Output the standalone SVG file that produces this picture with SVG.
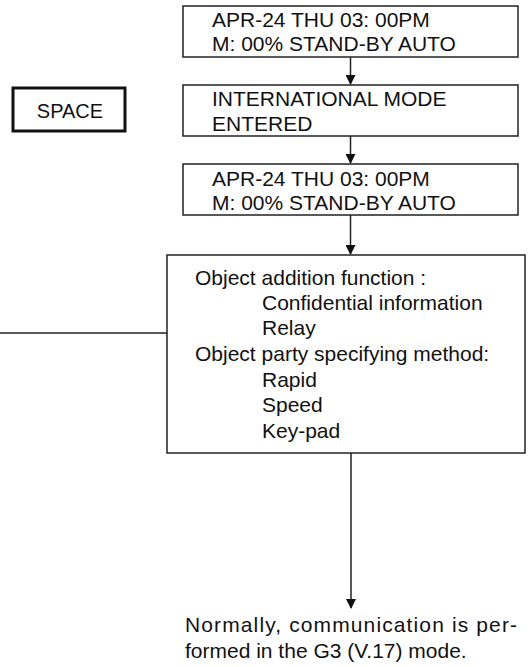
<svg xmlns="http://www.w3.org/2000/svg" width="530" height="667" viewBox="0 0 530 667">
<defs>
<style>
.box{fill:#fff;stroke:#222;stroke-width:1.5}
.box2{fill:#fff;stroke:#111;stroke-width:3}
.t{font-family:"Liberation Sans",Arial,sans-serif;font-size:21px;fill:#111}
.ts{font-family:"Liberation Sans",Arial,sans-serif;font-size:20px;fill:#111}
.ln{stroke:#222;stroke-width:1.5;fill:none}
</style>
<marker id="ah" markerWidth="10" markerHeight="10" refX="9" refY="5" orient="auto" markerUnits="userSpaceOnUse">
<path d="M0,0 L10,5 L0,10 Z" fill="#111"/>
</marker>
</defs>
<g id="connectors">
<line class="ln" x1="350.5" y1="57" x2="350.5" y2="84" marker-end="url(#ah)"/>
<line class="ln" x1="350.5" y1="136" x2="350.5" y2="163" marker-end="url(#ah)"/>
<line class="ln" x1="350.5" y1="215" x2="350.5" y2="254" marker-end="url(#ah)"/>
<line class="ln" x1="0" y1="333" x2="167" y2="333"/>
<line class="ln" x1="351" y1="453" x2="351" y2="608" marker-end="url(#ah)"/>
</g>
<g id="status1">
<rect class="box" x="183" y="6" width="335" height="51"/>
<text class="t" x="212" y="27">APR-24 THU 03: 00PM</text>
<text class="t" x="212" y="51">M: 00% STAND-BY AUTO</text>
</g>
<g id="space">
<rect class="box2" x="13" y="88" width="112" height="43"/>
<text class="ts" x="70" y="118" text-anchor="middle">SPACE</text>
</g>
<g id="intl">
<rect class="box" x="183" y="85" width="335" height="51"/>
<text class="t" x="212" y="106">INTERNATIONAL MODE</text>
<text class="t" x="212" y="131">ENTERED</text>
</g>
<g id="status2">
<rect class="box" x="183" y="164" width="335" height="51"/>
<text class="t" x="212" y="186">APR-24 THU 03: 00PM</text>
<text class="t" x="212" y="210">M: 00% STAND-BY AUTO</text>
</g>
<g id="options">
<rect class="box" x="167" y="255" width="358" height="198"/>
<text class="t" x="195" y="285">Object addition function :</text>
<text class="t" x="262" y="310">Confidential information</text>
<text class="t" x="262" y="335">Relay</text>
<text class="t" x="195" y="361">Object party specifying method:</text>
<text class="t" x="262" y="387">Rapid</text>
<text class="t" x="262" y="412">Speed</text>
<text class="t" x="262" y="438">Key-pad</text>
</g>
<g id="note">
<text class="t" x="185" y="632" textLength="332" lengthAdjust="spacing">Normally, communication is per-</text>
<text class="t" x="185" y="658">formed in the G3 (V.17) mode.</text>
</g>
</svg>
